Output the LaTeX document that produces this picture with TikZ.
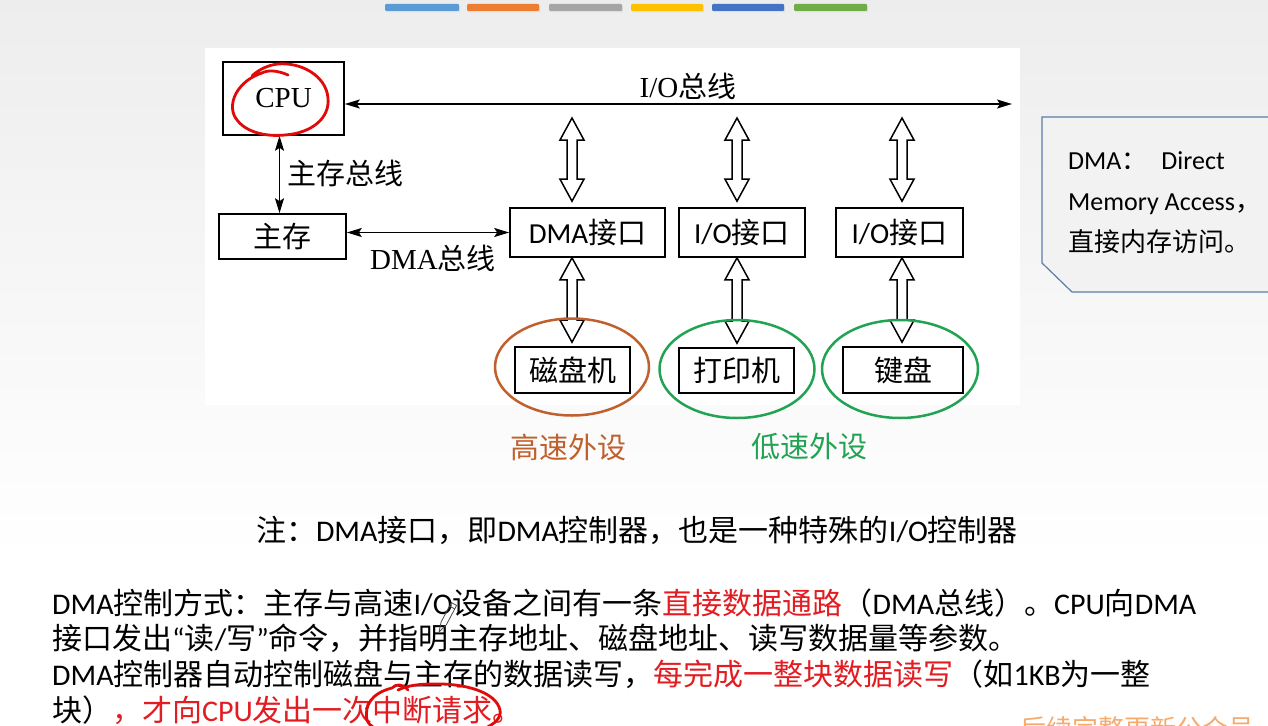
\documentclass[tikz,border=0pt]{standalone}
\usepackage{fontspec}
\setmainfont{Liberation Serif}
\newfontfamily\cjk{Noto Sans CJK SC}
\newfontfamily\calfont{Carlito}
\usetikzlibrary{arrows.meta,shapes.geometric,calc}

\definecolor{pred}{RGB}{226,28,33}
\definecolor{pen}{RGB}{225,10,10}
\definecolor{brownc}{RGB}{192,96,44}
\definecolor{greenc}{RGB}{34,163,84}
\definecolor{boxblue}{RGB}{92,126,166}
\definecolor{boxfill}{RGB}{242,242,242}
\definecolor{wmark}{RGB}{245,170,110}
\definecolor{barA}{RGB}{91,155,213}
\definecolor{barB}{RGB}{237,125,49}
\definecolor{barC}{RGB}{165,165,165}
\definecolor{barD}{RGB}{255,192,0}
\definecolor{barE}{RGB}{68,114,196}
\definecolor{barF}{RGB}{112,173,71}

% Latin words set in Carlito, serif Latin in Liberation Serif
\newcommand\lat[1]{{\calfont #1}}
\newcommand\rom[1]{{\rmfamily #1}}

\tikzset{
  blk/.style={draw, line width=1.6pt, inner sep=0pt, fill=white,
              font=\cjk\fontsize{29}{34}\selectfont},
  lbl/.style={inner sep=0pt, font=\cjk\fontsize{29}{34}\selectfont},
  thinarrow/.style={line width=1.8pt,
     arrows={Stealth[length=15pt,width=9pt,inset=3pt]-Stealth[length=15pt,width=9pt,inset=3pt]}},
  fat/.style={draw, line width=1.5pt, fill=white, line join=miter,
     to path={let \p1=(\tikztostart), \p2=(\tikztotarget) in
       (\x1,\y1) -- (\x1+12pt,\y1-22pt) -- (\x1+5pt,\y1-22pt) -- (\x1+5pt,\y2+22pt)
       -- (\x1+12pt,\y2+22pt) -- (\x1,\y2) -- (\x1-12pt,\y2+22pt) -- (\x1-5pt,\y2+22pt)
       -- (\x1-5pt,\y1-22pt) -- (\x1-12pt,\y1-22pt) -- cycle}},
  ring/.style={ellipse, draw, line width=2.5pt, inner sep=0pt},
  redpen/.style={draw=pen, line width=2.8pt, line cap=round, line join=round},
  para/.style={anchor=base west, inner sep=0pt, font=\cjk\fontsize{30}{36}\selectfont},
  bar/.style={rounded corners=1pt}
}

\begin{document}
\begin{tikzpicture}[x=1pt,y=-1pt]
\useasboundingbox (0,0) rectangle (1268,725);
\clip (0,0) rectangle (1268,725);

% slide background
\fill[white] (0,0) rectangle (1268,725);
\shade[top color=black!7, bottom color=white] (0,0) rectangle (1268,560);

% theme colour bars
\foreach \xa/\xb/\c in {385/459/barA,467/539/barB,549/622/barC,631/703/barD,712/784/barE,794/867/barF}{
  \fill[black!12, bar] (\xa+1,5.5) rectangle (\xb+1,12.5);
  \fill[\c, bar] (\xa,4) rectangle (\xb,11);
}

% white diagram panel
\fill[white] (205,48) rectangle (1020,405);

% units
\node[blk, minimum width=121pt, minimum height=73pt] (cpu) at (283.5,98.5) {\rom{CPU}};
\node[blk, minimum width=127pt, minimum height=45pt] (mem) at (282.5,236.5) {主存};
\node[blk, minimum width=155pt, minimum height=49pt] (dma) at (587.5,232.5) {\lat{DMA}接口};
\node[blk, minimum width=126pt, minimum height=49pt] (io1) at (742,232.5) {\lat{I/O}接口};
\node[blk, minimum width=127pt, minimum height=49pt] (io2) at (899.5,232.5) {\lat{I/O}接口};
\node[blk, minimum width=115pt, minimum height=46pt] (disk) at (572.5,370) {磁盘机};
\node[blk, minimum width=115pt, minimum height=45pt] (prn) at (736.5,370.5) {打印机};
\node[blk, minimum width=120pt, minimum height=46pt] (kbd) at (903,370) {键盘};

% bus end points
\coordinate (busend) at (1012,104);
\coordinate (tapD) at (572,118);
\coordinate (tapA) at (737,118);
\coordinate (tapB) at (902,118);

% thin buses
\draw[thinarrow] (cpu.east |- busend) -- (busend);
\draw[thinarrow] ($(cpu.south)+(-4,0)$) -- ($(mem.north)+(-3,0)$);
\draw[thinarrow] (mem.east |- dma.west) -- (dma.west);

% bus labels
\node[lbl] (lblio) at (688,86) {\rom{I/O}总线};
\node[lbl, anchor=west] (lblmem) at (287,173) {主存总线};
\node[lbl] (lbldma) at (433,258) {\rom{DMA}总线};

% wide double arrows
\path[fat] (tapD) to ($(dma.north -| tapD)+(0,-6)$);
\path[fat] (tapA) to ($(io1.north -| tapA)+(0,-6)$);
\path[fat] (tapB) to ($(io2.north -| tapB)+(0,-6)$);
\path[fat] (dma.south -| tapD) to ($(disk.north -| tapD)+(0,-4)$);
\path[fat] (io1.south -| tapA) to ($(prn.north -| tapA)+(0,-4)$);
\path[fat] (io2.south -| tapB) to ($(kbd.north -| tapB)+(0,-4)$);

% device groups
\node[ring, draw=brownc, minimum width=154pt, minimum height=97pt] (fast) at (572,367) {};
\node[ring, draw=greenc, minimum width=155pt, minimum height=98pt] (slowA) at (737,369) {};
\node[ring, draw=greenc, minimum width=156pt, minimum height=98pt] (slowB) at (900,369) {};
\node[lbl, text=brownc] (lblfast) at (568,447) {高速外设};
\node[lbl, text=greenc] (lblslow) at (809,447) {低速外设};

% hand-drawn mark around CPU
\draw[redpen] (288,75) .. controls (277,70) and (267,70) .. (262,73)
  .. controls (240,80) and (228,100) .. (234,115)
  .. controls (242,132) and (265,137) .. (285,135)
  .. controls (312,133) and (330,118) .. (328,98)
  .. controls (326,75) and (300,62) .. (278,64)
  .. controls (268,65) and (258,70) .. (252,76);

% side note
\draw[draw=boxblue, fill=boxfill, line width=1.2pt]
  (1275,117) -- (1042,117) -- (1042,263) -- (1072,292) -- (1275,292);
\node[anchor=base west, inner sep=0pt, font=\cjk\fontsize{26}{31}\selectfont] (noteA) at (1068,169)
  {\lat{DMA}：\hspace{14pt}\lat{Direct}};
\node[anchor=base west, inner sep=0pt, font=\cjk\fontsize{26}{31}\selectfont] (noteB) at (1068,210)
  {\lat{Memory Access}，};
\node[anchor=base west, inner sep=0pt, font=\cjk\fontsize{26}{31}\selectfont] (noteC) at (1068,251)
  {直接内存访问。};

% remark line
\node[anchor=base, inner sep=0pt, font=\cjk\fontsize{30}{36}\selectfont] (remark) at (637,541)
  {注：\lat{DMA}接口，即\lat{DMA}控制器，也是一种特殊的\lat{I/O}控制器};

% paragraph
\node[para] (p1) at (52,614) {\lat{DMA}控制方式：主存与高速\lat{I/O}设备之间有一条\textcolor{pred}{直接数据通路}（\lat{DMA}总线）。\lat{CPU}向\lat{DMA}};
\node[para] (p2) at (52,649) {接口发出\lat{“}读\lat{/}写\lat{”}命令，并指明主存地址、磁盘地址、读写数据量等参数。};
\node[para] (p3) at (52,685) {\lat{DMA}控制器自动控制磁盘与主存的数据读写，\textcolor{pred}{每完成一整块数据读写}（如\lat{1KB}为一整};
\node[para] (p4) at (52,721) {块）\textcolor{pred}{，才向\lat{CPU}发出一次中断请求。}};

% hand-drawn mark around the interrupt request
\draw[redpen] (408,690) .. controls (402,683) and (396,684) .. (392,688)
  .. controls (372,693) and (364,705) .. (367,720)
  .. controls (371,732) and (400,738) .. (435,737)
  .. controls (475,736) and (503,725) .. (500,710)
  .. controls (496,692) and (465,683) .. (432,684)
  .. controls (418,684) and (406,686) .. (398,690);

% pen pointer (outline only)
\draw[black!70, line width=0.8pt, line join=round]
  (451.4,602.6) -- (456.6,605.4) -- (446.3,624.8) -- (439,632) -- (441.1,622.0) -- cycle;
\draw[black!70, line width=0.8pt] (449.5,606.1) -- (454.7,608.9);

% footer mark
\node[anchor=base west, inner sep=0pt, text=wmark, font=\cjk\fontsize{26}{31}\selectfont] (wm) at (1020,738)
  {后续完整更新公众号};
\end{tikzpicture}
\end{document}
